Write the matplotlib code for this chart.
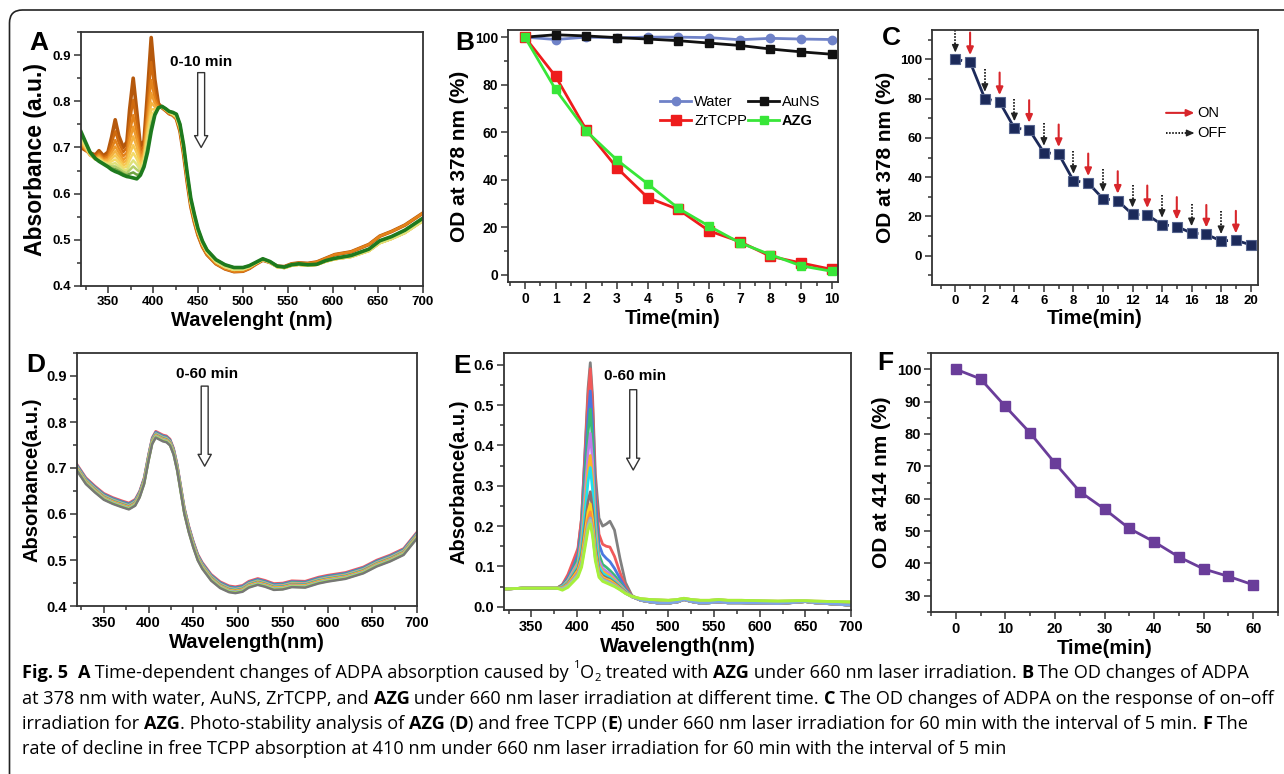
import numpy as np
import matplotlib
matplotlib.use('Agg')
import matplotlib.pyplot as plt
from matplotlib.patches import FancyBboxPatch
from matplotlib.transforms import IdentityTransform
from matplotlib.ticker import MultipleLocator

plt.rcParams['font.family'] = ['Liberation Sans', 'DejaVu Sans']
plt.rcParams['font.weight'] = 'bold'
plt.rcParams['axes.labelweight'] = 'bold'

# ---------------- data ----------------
# A: ADPA + AZG, 0-10 min (head region differs per curve, tail shared by groups)
wl_a_head = [320, 330, 336, 340, 345, 350, 354, 358, 362, 367, 371, 374, 378, 382, 386, 390, 394, 398, 402, 406, 410]
abs_a_head = [
    [0.700, 0.688, 0.684, 0.693, 0.682, 0.690, 0.722, 0.760, 0.725, 0.700, 0.712, 0.782, 0.850, 0.778, 0.702, 0.714, 0.822, 0.938, 0.848, 0.795, 0.786],
    [0.703, 0.686, 0.681, 0.689, 0.679, 0.684, 0.708, 0.735, 0.710, 0.690, 0.700, 0.752, 0.803, 0.752, 0.692, 0.704, 0.792, 0.885, 0.820, 0.790, 0.786],
    [0.706, 0.684, 0.678, 0.685, 0.676, 0.679, 0.697, 0.716, 0.698, 0.681, 0.689, 0.730, 0.770, 0.732, 0.684, 0.697, 0.772, 0.846, 0.805, 0.787, 0.786],
    [0.710, 0.683, 0.676, 0.682, 0.673, 0.675, 0.689, 0.702, 0.689, 0.673, 0.680, 0.713, 0.745, 0.716, 0.676, 0.690, 0.757, 0.818, 0.795, 0.786, 0.787],
    [0.713, 0.683, 0.675, 0.679, 0.671, 0.672, 0.682, 0.692, 0.681, 0.667, 0.672, 0.698, 0.724, 0.701, 0.669, 0.684, 0.744, 0.797, 0.788, 0.785, 0.787],
    [0.716, 0.684, 0.675, 0.677, 0.669, 0.668, 0.676, 0.683, 0.674, 0.661, 0.665, 0.685, 0.705, 0.688, 0.662, 0.679, 0.733, 0.782, 0.783, 0.785, 0.787],
    [0.719, 0.685, 0.674, 0.675, 0.668, 0.665, 0.670, 0.674, 0.667, 0.656, 0.658, 0.673, 0.688, 0.675, 0.656, 0.673, 0.722, 0.770, 0.779, 0.785, 0.788],
    [0.723, 0.686, 0.674, 0.673, 0.667, 0.663, 0.664, 0.666, 0.660, 0.651, 0.651, 0.661, 0.672, 0.663, 0.651, 0.668, 0.714, 0.760, 0.776, 0.785, 0.788],
    [0.727, 0.687, 0.675, 0.672, 0.666, 0.661, 0.659, 0.659, 0.654, 0.647, 0.645, 0.651, 0.659, 0.652, 0.646, 0.664, 0.706, 0.752, 0.774, 0.785, 0.788],
    [0.731, 0.689, 0.676, 0.671, 0.665, 0.659, 0.655, 0.653, 0.649, 0.643, 0.640, 0.643, 0.646, 0.641, 0.642, 0.661, 0.698, 0.743, 0.772, 0.786, 0.789],
    [0.734, 0.690, 0.676, 0.670, 0.664, 0.658, 0.652, 0.648, 0.645, 0.640, 0.637, 0.636, 0.634, 0.632, 0.640, 0.658, 0.690, 0.735, 0.770, 0.786, 0.789],
]
wl_a_tail = [410, 414, 418, 422, 426, 430, 434, 438, 442, 446, 450, 455, 460, 470, 480, 490, 500, 507, 514, 522,
             530, 538, 546, 554, 562, 572, 582, 592, 602, 620, 640, 652, 665, 680, 700]
abs_a_tail_orange = [0.786, 0.780, 0.773, 0.770, 0.762, 0.735, 0.685, 0.625, 0.572, 0.538, 0.510, 0.485, 0.468, 0.448, 0.437, 0.431, 0.432, 0.438, 0.447, 0.456,
                     0.451, 0.443, 0.442, 0.448, 0.450, 0.449, 0.452, 0.460, 0.468, 0.474, 0.490, 0.508, 0.518, 0.532, 0.558]
abs_a_tail_yellow = [0.788, 0.782, 0.776, 0.772, 0.766, 0.742, 0.695, 0.635, 0.580, 0.546, 0.517, 0.491, 0.473, 0.452, 0.441, 0.435, 0.436, 0.441, 0.449, 0.457,
                     0.451, 0.441, 0.439, 0.444, 0.446, 0.444, 0.446, 0.453, 0.458, 0.463, 0.476, 0.493, 0.502, 0.515, 0.541]
abs_a_tail_green = [0.789, 0.784, 0.778, 0.776, 0.772, 0.750, 0.705, 0.645, 0.590, 0.555, 0.524, 0.497, 0.478, 0.457, 0.446, 0.440, 0.440, 0.444, 0.451, 0.459,
                    0.453, 0.443, 0.441, 0.446, 0.448, 0.446, 0.447, 0.455, 0.460, 0.466, 0.480, 0.498, 0.507, 0.521, 0.547]
a_tail_of = [0, 0, 0, 1, 1, 1, 1, 1, 2, 2, 2]
a_colors = ['#b5580c', '#cf6a0e', '#e3821a', '#ee9a2c', '#f4b240', '#f6c852',
            '#f3da66', '#dfe27a', '#b5cf6a', '#6fa443', '#1e7a1e']

# B: OD at 378 nm
t_b = [0, 1, 2, 3, 4, 5, 6, 7, 8, 9, 10]
od_water = [100, 99, 100, 99.7, 100, 100, 99.8, 98.9, 99.5, 99.2, 99.0]
od_auns = [100, 101, 100.5, 99.8, 99.2, 98.5, 97.5, 96.5, 95, 93.8, 92.8]
od_zrtcpp = [100, 83.5, 61, 45, 32.5, 27.5, 18.5, 14, 7.8, 5, 2.3]
od_azg = [100, 78, 60.5, 48.3, 38.3, 28, 20.5, 13.5, 8.5, 3.8, 1.5]

# C: on-off irradiation
t_c = list(range(21))
od_c = [100, 98.7, 80, 78.3, 65, 64.2, 52.5, 51.8, 38.2, 37, 29, 28, 21, 20.7, 15.8, 14.8, 11.5, 10.8, 7.5, 7.8, 5.5]

# D: AZG photo-stability 0-60 min
wl_d = [320, 330, 340, 350, 360, 370, 378, 385, 390, 395, 400, 404, 408, 412, 416, 420, 424, 428, 432, 436, 440, 445, 450,
        455, 460, 470, 480, 490, 497, 505, 512, 522, 530, 540, 550, 560, 575, 590, 600, 620, 640, 655, 670, 685, 700]
abs_d = [0.700, 0.671, 0.653, 0.637, 0.628, 0.621, 0.616, 0.624, 0.642, 0.671, 0.722, 0.758, 0.772, 0.768, 0.764, 0.762, 0.755,
         0.735, 0.700, 0.653, 0.606, 0.566, 0.533, 0.505, 0.487, 0.461, 0.445, 0.436, 0.434, 0.437, 0.446, 0.452, 0.448, 0.441,
         0.442, 0.447, 0.446, 0.455, 0.459, 0.465, 0.477, 0.492, 0.503, 0.517, 0.553]
d_shift = [0.008, 0.006, 0.0045, 0.003, 0.002, 0.001, 0.0, -0.001, -0.002, -0.003, -0.004, -0.005, -0.006]
d_colors = ['#f05a5a', '#4a78e0', '#3cb878', '#c07ee8', '#ffb428', '#20e0f0', '#8a7070',
            '#ffd21e', '#ff8c3c', '#7ea6e8', '#a8c8a0', '#a6f03a', '#777777']

# E: free TCPP photo-stability 0-60 min
wl_e_head = [320, 340, 360, 378]
abs_e_head = [0.044, 0.046, 0.046, 0.046]
wl_e_mid = [384, 390, 396, 401, 405, 409, 412, 414.5, 417, 420, 424, 428, 432, 436, 441, 447, 453, 460]
abs_e_mid = [
    [0.055, 0.075, 0.105, 0.140, 0.220, 0.400, 0.540, 0.605, 0.520, 0.330, 0.220, 0.200, 0.205, 0.212, 0.190, 0.120, 0.060, 0.028],
    [0.055, 0.080, 0.115, 0.145, 0.220, 0.390, 0.520, 0.590, 0.500, 0.300, 0.180, 0.155, 0.150, 0.148, 0.125, 0.085, 0.050, 0.027],
    [0.053, 0.072, 0.100, 0.130, 0.200, 0.360, 0.470, 0.535, 0.450, 0.270, 0.155, 0.130, 0.120, 0.112, 0.095, 0.070, 0.045, 0.026],
    [0.052, 0.068, 0.095, 0.120, 0.185, 0.330, 0.430, 0.490, 0.410, 0.240, 0.130, 0.105, 0.098, 0.090, 0.078, 0.060, 0.042, 0.026],
    [0.050, 0.065, 0.090, 0.110, 0.170, 0.290, 0.380, 0.430, 0.360, 0.210, 0.115, 0.095, 0.088, 0.082, 0.070, 0.055, 0.040, 0.025],
    [0.050, 0.062, 0.085, 0.105, 0.155, 0.260, 0.335, 0.375, 0.315, 0.190, 0.105, 0.088, 0.082, 0.076, 0.066, 0.052, 0.038, 0.025],
    [0.050, 0.060, 0.082, 0.100, 0.145, 0.240, 0.310, 0.345, 0.290, 0.175, 0.100, 0.083, 0.077, 0.072, 0.063, 0.050, 0.037, 0.025],
    [0.048, 0.058, 0.078, 0.095, 0.130, 0.205, 0.260, 0.285, 0.240, 0.150, 0.090, 0.077, 0.072, 0.068, 0.060, 0.048, 0.036, 0.025],
    [0.047, 0.056, 0.074, 0.090, 0.120, 0.185, 0.235, 0.255, 0.215, 0.138, 0.085, 0.073, 0.068, 0.065, 0.057, 0.046, 0.035, 0.025],
    [0.046, 0.055, 0.071, 0.086, 0.113, 0.172, 0.217, 0.235, 0.200, 0.130, 0.082, 0.070, 0.066, 0.062, 0.055, 0.045, 0.034, 0.025],
    [0.045, 0.053, 0.068, 0.082, 0.107, 0.162, 0.204, 0.220, 0.188, 0.123, 0.079, 0.068, 0.064, 0.060, 0.053, 0.044, 0.034, 0.025],
    [0.044, 0.052, 0.066, 0.079, 0.104, 0.158, 0.199, 0.215, 0.184, 0.120, 0.077, 0.066, 0.062, 0.058, 0.052, 0.043, 0.033, 0.025],
    [0.041, 0.048, 0.062, 0.074, 0.098, 0.150, 0.190, 0.205, 0.175, 0.114, 0.073, 0.063, 0.059, 0.055, 0.050, 0.042, 0.033, 0.026],
]
wl_e_tail = [470, 480, 490, 500, 510, 517, 525, 535, 545, 555, 565, 580, 600, 620, 640, 650, 660, 680, 700]
abs_e_tail_low = [0.016, 0.012, 0.009, 0.009, 0.012, 0.018, 0.013, 0.009, 0.010, 0.012, 0.010, 0.010, 0.009, 0.008, 0.011, 0.013, 0.010, 0.007, 0.004]
abs_e_tail_high = [0.020, 0.018, 0.017, 0.016, 0.018, 0.021, 0.018, 0.016, 0.016, 0.018, 0.016, 0.016, 0.015, 0.014, 0.015, 0.015, 0.014, 0.013, 0.012]
e_tail_of = [0, 0, 0, 0, 0, 0, 0, 0, 1, 0, 0, 1, 1]
e_colors = ['#808080', '#f05a5a', '#4a78e0', '#3cb878', '#c07ee8', '#ffb428', '#20e0f0',
            '#8a7070', '#ffd21e', '#ff8c3c', '#7ea6e8', '#a8c8a0', '#a6f03a']

# F: OD at 414 nm
t_f = [0, 5, 10, 15, 20, 25, 30, 35, 40, 45, 50, 55, 60]
od_f = [100, 97, 88.5, 80.3, 71, 62.2, 56.8, 50.8, 46.7, 42, 38.3, 36, 33.4]

# ---------------- figure ----------------
W, H = 1284, 774
fig = plt.figure(figsize=(W / 100, H / 100), dpi=100)


def add_ax(l, t, r, b):
    return fig.add_axes([l / W, 1 - b / H, (r - l) / W, (b - t) / H])


def style(ax, size, mx, nx, my, ny):
    for s in ax.spines.values():
        s.set_linewidth(1.3)
        s.set_color('#333333')
    ax.tick_params(which='both', direction='out', top=False, right=False, width=1.1, color='#333333')
    ax.tick_params(which='major', length=5, labelsize=size, pad=2)
    ax.tick_params(which='minor', length=3)
    ax.xaxis.set_major_locator(MultipleLocator(mx))
    ax.xaxis.set_minor_locator(MultipleLocator(nx))
    ax.yaxis.set_major_locator(MultipleLocator(my))
    ax.yaxis.set_minor_locator(MultipleLocator(ny))


def hollow_arrow(ax, x, y0, y1):
    ax.annotate('', xy=(x, y1), xytext=(x, y0),
                arrowprops=dict(arrowstyle='simple,head_length=0.85,head_width=0.95,tail_width=0.5',
                                mutation_scale=10, fc='white', ec='#333333', lw=1.0, shrinkA=0, shrinkB=0))


# A
ax = add_ax(81, 32, 423, 286)
wl_a = wl_a_head[:-1] + wl_a_tail
tails = [abs_a_tail_orange, abs_a_tail_yellow, abs_a_tail_green]
for i in range(11):
    ax.plot(wl_a, abs_a_head[i][:-1] + tails[a_tail_of[i]], color=a_colors[i],
            lw=2.6 if i in (0, 10) else 1.8)
ax.set_xlim(320, 700)
ax.set_ylim(0.4, 0.95)
style(ax, 9.5, 50, 25, 0.1, 0.05)
ax.set_xlabel('Wavelenght (nm)', fontsize=14.5, labelpad=2)
ax.set_ylabel('Absorbance (a.u.)', fontsize=16.5, labelpad=4)
ax.text(454, 0.886, '0-10 min', ha='center', va='center', fontsize=11)
hollow_arrow(ax, 453.5, 0.862, 0.700)

# B
ax = add_ax(508, 30, 838, 282)
hw, = ax.plot(t_b, od_water, 'o-', color='#6f82c8', ms=6, lw=2, label='Water')
ha, = ax.plot(t_b, od_auns, 's-', color='#111111', ms=6, lw=2, label='AuNS')
hz, = ax.plot(t_b, od_zrtcpp, 's-', color='#ee1c1c', ms=6.5, lw=2, label='ZrTCPP')
hg, = ax.plot(t_b, od_azg, 's-', color='#38e638', ms=6, lw=2, label='AZG')
ax.set_xlim(-0.55, 10.2)
ax.set_ylim(-3, 103)
style(ax, 10, 1, 0.5, 20, 10)
ax.set_xlabel('Time(min)', fontsize=14.5, labelpad=2)
ax.set_ylabel('OD at 378 nm (%)', fontsize=15, labelpad=4)
leg = ax.legend([hw, hz, ha, hg], ['Water', 'ZrTCPP', 'AuNS', 'AZG'], ncol=2, frameon=False,
                loc='upper left', bbox_to_anchor=(0.44, 0.77), fontsize=10.5, handlelength=2.1,
                handletextpad=0.2, columnspacing=0.1, labelspacing=0.35, borderpad=0)
for txt in leg.get_texts():
    txt.set_fontweight('bold' if txt.get_text() == 'AZG' else 'normal')

# C
ax = add_ax(932, 30, 1258, 285)
navy = '#1c2a5a'
for i in range(len(t_c) - 1):
    ls = (0, (2.5, 1.5)) if i % 2 == 0 else '-'
    ax.plot(t_c[i:i + 2], od_c[i:i + 2], color=navy, lw=2, ls=ls)
ax.plot(t_c, od_c, 's', color=navy, ms=7, mec='#56648e', mew=0.8)
for i in range(len(t_c) - 1):
    top = min(od_c[i] + 15, 115)
    end = od_c[i] + 3.5
    if i % 2 == 0:
        ax.plot([t_c[i], t_c[i]], [top, end + 2], color='#222222', lw=1.4, ls=(0, (0.8, 0.8)))
        ax.annotate('', xy=(t_c[i], end), xytext=(t_c[i], end + 2.5),
                    arrowprops=dict(arrowstyle='-|>,head_length=0.45,head_width=0.2', color='#222222',
                                    lw=1, shrinkA=0, shrinkB=0))
    else:
        ax.annotate('', xy=(t_c[i], end), xytext=(t_c[i], top),
                    arrowprops=dict(arrowstyle='-|>,head_length=0.45,head_width=0.2', color='#d8262b',
                                    lw=1.5, shrinkA=0, shrinkB=0))
ax.annotate('', xy=(0.805, 0.675), xytext=(0.718, 0.675), xycoords='axes fraction',
            arrowprops=dict(arrowstyle='-|>,head_length=0.45,head_width=0.2', color='#d8262b', lw=1.5,
                            shrinkA=0, shrinkB=0))
ax.plot([0.718, 0.79], [0.596, 0.596], transform=ax.transAxes, color='#222222', lw=1.4, ls=(0, (0.8, 0.8)))
ax.annotate('', xy=(0.805, 0.596), xytext=(0.785, 0.596), xycoords='axes fraction',
            arrowprops=dict(arrowstyle='-|>,head_length=0.45,head_width=0.2', color='#222222', lw=1,
                            shrinkA=0, shrinkB=0))
ax.text(0.815, 0.675, 'ON', transform=ax.transAxes, va='center', fontsize=10.5, fontweight='normal')
ax.text(0.815, 0.596, 'OFF', transform=ax.transAxes, va='center', fontsize=10.5, fontweight='normal')
ax.set_xlim(-1.58, 20.5)
ax.set_ylim(-15, 115)
style(ax, 9.5, 2, 1, 20, 10)
ax.set_xlabel('Time(min)', fontsize=14.5, labelpad=2)
ax.set_ylabel('OD at 378 nm (%)', fontsize=15, labelpad=4)

# D
ax = add_ax(77, 353, 417, 606)
for c, s in zip(d_colors, d_shift):
    ax.plot(wl_d, np.array(abs_d) + s, color=c, lw=1.8)
ax.set_xlim(320, 700)
ax.set_ylim(0.4, 0.95)
style(ax, 10.5, 50, 25, 0.1, 0.05)
ax.set_xlabel('Wavelength(nm)', fontsize=14.5, labelpad=2)
ax.set_ylabel('Absorbance(a.u.)', fontsize=14.5, labelpad=4)
ax.text(465.7, 0.904, '0-60 min', ha='center', va='center', fontsize=11)
hollow_arrow(ax, 462.7, 0.878, 0.704)

# E
ax = add_ax(504, 353, 851, 610)
tails_e = [abs_e_tail_low, abs_e_tail_high]
wl_e = wl_e_head + wl_e_mid + wl_e_tail
for i in range(len(abs_e_mid)):
    ax.plot(wl_e, abs_e_head + abs_e_mid[i] + tails_e[e_tail_of[i]], color=e_colors[i], lw=2)
ax.set_xlim(320, 700)
ax.set_ylim(-0.008, 0.629)
style(ax, 10.5, 50, 25, 0.1, 0.05)
ax.set_xlabel('Wavelength(nm)', fontsize=14.5, labelpad=2)
ax.set_ylabel('Absorbance(a.u.)', fontsize=14.5, labelpad=4)
ax.text(463, 0.571, '0-60 min', ha='center', va='center', fontsize=11)
hollow_arrow(ax, 461.5, 0.538, 0.339)

# F
ax = add_ax(931, 353, 1278, 612)
ax.plot(t_f, od_f, 's-', color='#6a3d9a', ms=7, lw=2)
ax.set_xlim(-5, 65)
ax.set_ylim(25, 105)
style(ax, 10.5, 10, 5, 10, 5)
ax.set_xlabel('Time(min)', fontsize=14.5, labelpad=2)
ax.set_ylabel('OD at 414 nm (%)', fontsize=15, labelpad=4)

# panel letters
for letter, x, y in [('A', 29, 50), ('B', 455, 50), ('C', 882, 45),
                     ('D', 26, 372), ('E', 453, 373), ('F', 877, 370)]:
    fig.text(x / W, 1 - y / H, letter, fontsize=19, fontweight='bold', va='baseline', ha='left')

# frame
fig.add_artist(FancyBboxPatch((9.5, -40), 1400, 764 + 40, boxstyle='round,pad=0,rounding_size=13',
                              transform=IdentityTransform(), fill=False, ec='#222222', lw=1.2))

# caption
cap_lines = [
    [('Fig. 5', 'b'), ('  ', 'r'), ('A', 'b'), (' Time-dependent changes of ADPA absorption caused by ', 'r'),
     ('1', 'sup'), ('O', 'r'), ('2', 'sub'), (' treated with ', 'r'), ('AZG', 'b'),
     (' under 660 nm laser irradiation. ', 'r'), ('B', 'b'), (' The OD changes of ADPA', 'r')],
    [('at 378 nm with water, AuNS, ZrTCPP, and ', 'r'), ('AZG', 'b'),
     (' under 660 nm laser irradiation at different time. ', 'r'), ('C', 'b'),
     (' The OD changes of ADPA on the response of on\u2013off', 'r')],
    [('irradiation for ', 'r'), ('AZG', 'b'), ('. Photo-stability analysis of ', 'r'), ('AZG', 'b'), (' (', 'r'),
     ('D', 'b'), (') and free TCPP (', 'r'), ('E', 'b'),
     (') under 660 nm laser irradiation for 60 min with the interval of 5 min. ', 'r'), ('F', 'b'), (' The', 'r')],
    [('rate of decline in free TCPP absorption at 410 nm under 660 nm laser irradiation for 60 min with the interval of 5 min', 'r')],
]

renderer = fig.canvas.get_renderer()


def run_props(kind, size):
    kw = dict(family=['Open Sans', 'DejaVu Sans'], size=size, weight='bold' if kind == 'b' else 'normal')
    if kind in ('sup', 'sub'):
        kw['size'] = size * 0.62
    return kw


def run_width(s, kw):
    a = fig.text(0, 0, '|' + s + '|', transform=IdentityTransform(), **kw)
    b = fig.text(0, 0, '||', transform=IdentityTransform(), **kw)
    w = a.get_window_extent(renderer).width - b.get_window_extent(renderer).width
    a.remove()
    b.remove()
    return w


base = 12
widest = max(sum(run_width(s, run_props(k, base)) for s, k in runs) for runs in cap_lines)
cap_size = base * 1246 / widest

for n, runs in enumerate(cap_lines):
    x = 22
    y = H - (678 + 25.5 * n)
    for s, k in runs:
        kw = run_props(k, cap_size)
        dy = 0
        if k == 'sup':
            dy = cap_size * 0.55 * 100 / 72
        elif k == 'sub':
            dy = -cap_size * 0.18 * 100 / 72
        fig.text(x, y + dy, s, transform=IdentityTransform(), va='baseline', ha='left', **kw)
        x += run_width(s, kw)

fig.savefig('out.png', dpi=100)
